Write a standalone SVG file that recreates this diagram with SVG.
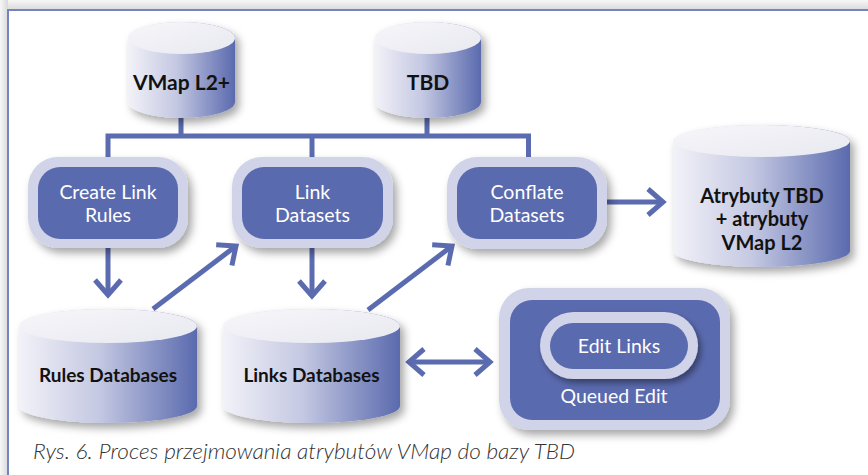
<svg xmlns="http://www.w3.org/2000/svg" width="868" height="475" viewBox="0 0 868 475">
<defs>
<linearGradient id="topband" x1="0" y1="0" x2="0" y2="1">
<stop offset="0" stop-color="#f7f7f7"/><stop offset="1" stop-color="#d9d9d9"/>
</linearGradient>
<linearGradient id="leftband" x1="0" y1="0" x2="1" y2="0">
<stop offset="0" stop-color="#f7f7f7"/><stop offset="1" stop-color="#d9d9d9"/>
</linearGradient>
<linearGradient id="cylBody" x1="0" y1="0" x2="1" y2="0">
<stop offset="0" stop-color="#f2f2f8"/><stop offset="0.45" stop-color="#c4c8e2"/><stop offset="1" stop-color="#5a6aae"/>
</linearGradient>
<linearGradient id="cylTop" x1="0" y1="0" x2="1" y2="1">
<stop offset="0" stop-color="#f6f6fa"/><stop offset="1" stop-color="#e8e8f0"/>
</linearGradient>
<filter id="shadow" x="-20%" y="-20%" width="150%" height="160%">
<feDropShadow dx="4" dy="5" stdDeviation="4" flood-color="#000" flood-opacity="0.35"/>
</filter>
<filter id="shadowSm" x="-20%" y="-30%" width="150%" height="170%">
<feDropShadow dx="3" dy="4" stdDeviation="3" flood-color="#000" flood-opacity="0.4"/>
</filter>
<marker id="chev" viewBox="-20 -20 40 40" markerWidth="40" markerHeight="40" refX="0" refY="0" orient="auto-start-reverse" markerUnits="userSpaceOnUse" overflow="visible">
<path d="M-15,-13 L0,0 L-15,13" fill="none" stroke="#5b6bb0" stroke-width="5"/>
</marker>
</defs>
<style>
.cyl { fill: url(#cylBody); }
.cyltop { fill: url(#cylTop); }
.outer { fill: #d1d4e8; }
.inner { fill: #5a6aae; }
.dark { font-family: "Lato", "Liberation Sans", sans-serif; font-weight: 700; fill: #111; text-anchor: middle; }
.light { font-family: "Lato", "Liberation Sans", sans-serif; font-weight: 400; fill: #ffffff; text-anchor: middle; font-size: 19.5px; }
.conn { fill: none; stroke: #5b6bb0; stroke-width: 5; }
.cap { font-family: "Lato", "Liberation Sans", sans-serif; font-style: italic; font-weight: 300; fill: #333; font-size: 22px; }
</style>
<rect x="0" y="0" width="868" height="475" fill="#ececec"/>
<rect x="0" y="0" width="868" height="10" fill="url(#topband)"/>
<rect x="0" y="0" width="8" height="475" fill="url(#leftband)"/>
<rect x="8" y="10" width="860" height="465" fill="#ffffff"/>
<path d="M8,475 V10 H868" fill="none" stroke="#7484c0" stroke-width="2"/>

<g id="connectors">
<path class="conn" d="M108,157 V136 H528.5 V157 M312,136 V157 M181,118 V136 M427,118 V136"/>
<line class="conn" x1="108" y1="248" x2="108" y2="295" marker-end="url(#chev)"/>
<line class="conn" x1="312" y1="248" x2="312" y2="296" marker-end="url(#chev)"/>
<line class="conn" x1="153" y1="309" x2="236" y2="246" marker-end="url(#chev)"/>
<line class="conn" x1="368" y1="310" x2="452" y2="246" marker-end="url(#chev)"/>
<line class="conn" x1="607" y1="202" x2="663" y2="202" marker-end="url(#chev)"/>
<line class="conn" x1="409" y1="362" x2="490" y2="362" marker-start="url(#chev)" marker-end="url(#chev)"/>
</g>

<g id="vmap">
<g filter="url(#shadow)">
<path class="cyl" d="M128,38 V102 A53.5,16 0 0 0 235,102 V38 A53.5,16 0 0 0 128,38 Z"/>
<ellipse class="cyltop" cx="181.5" cy="38" rx="53.5" ry="16"/>
</g>
<text class="dark" x="181.5" y="90" font-size="21">VMap L2+</text>
</g>

<g id="tbd">
<g filter="url(#shadow)">
<path class="cyl" d="M375,38 V102 A53,16 0 0 0 481,102 V38 A53,16 0 0 0 375,38 Z"/>
<ellipse class="cyltop" cx="428" cy="38" rx="53" ry="16"/>
</g>
<text class="dark" x="428" y="90" font-size="21">TBD</text>
</g>

<g id="create-link-rules">
<rect class="outer" x="28" y="157" width="160" height="91" rx="30" filter="url(#shadow)"/>
<rect class="inner" x="38" y="167" width="140" height="72" rx="22"/>
<text class="light" x="108" y="199">Create Link</text>
<text class="light" x="108" y="222">Rules</text>
</g>

<g id="link-datasets">
<rect class="outer" x="232" y="157" width="161" height="91" rx="30" filter="url(#shadow)"/>
<rect class="inner" x="242" y="167" width="141" height="72" rx="22"/>
<text class="light" x="312.5" y="199">Link</text>
<text class="light" x="312.5" y="222">Datasets</text>
</g>

<g id="conflate-datasets">
<rect class="outer" x="447" y="157" width="160" height="92" rx="30" filter="url(#shadow)"/>
<rect class="inner" x="457" y="167" width="140" height="72" rx="22"/>
<text class="light" x="527" y="199">Conflate</text>
<text class="light" x="527" y="222">Datasets</text>
</g>

<g id="atrybuty">
<g filter="url(#shadow)">
<path class="cyl" d="M673,141 V251 A88.5,16 0 0 0 850,251 V141 A88.5,16 0 0 0 673,141 Z"/>
<ellipse class="cyltop" cx="761.5" cy="141" rx="88.5" ry="16"/>
</g>
<text class="dark" x="762" y="203" font-size="20">Atrybuty TBD</text>
<text class="dark" x="762" y="226" font-size="20">+ atrybuty</text>
<text class="dark" x="762" y="250" font-size="20">VMap L2</text>
</g>

<g id="rules-databases">
<g filter="url(#shadow)">
<path class="cyl" d="M19,326 V406 A89,17 0 0 0 197,406 V326 A89,17 0 0 0 19,326 Z"/>
<ellipse class="cyltop" cx="108" cy="326" rx="89" ry="17"/>
</g>
<text class="dark" x="108" y="382" font-size="19">Rules Databases</text>
</g>

<g id="links-databases">
<g filter="url(#shadow)">
<path class="cyl" d="M223,326 V406 A88.5,17 0 0 0 400,406 V326 A88.5,17 0 0 0 223,326 Z"/>
<ellipse class="cyltop" cx="311.5" cy="326" rx="88.5" ry="17"/>
</g>
<text class="dark" x="311.5" y="382" font-size="19">Links Databases</text>
</g>

<g id="queued-edit">
<rect class="outer" x="499" y="288" width="231" height="142" rx="30" filter="url(#shadow)"/>
<rect class="inner" x="510" y="300" width="210" height="120" rx="22"/>
<text class="light" x="614" y="403">Queued Edit</text>
</g>

<g id="edit-links">
<rect class="outer" x="540" y="312" width="158" height="67" rx="33.5" filter="url(#shadowSm)"/>
<rect class="inner" x="550" y="323" width="138" height="46" rx="23"/>
<text class="light" x="619" y="353">Edit Links</text>
</g>

<text class="cap" x="33" y="459" textLength="542" lengthAdjust="spacingAndGlyphs">Rys. 6. Proces przejmowania atrybutów VMap do bazy TBD</text>
</svg>
